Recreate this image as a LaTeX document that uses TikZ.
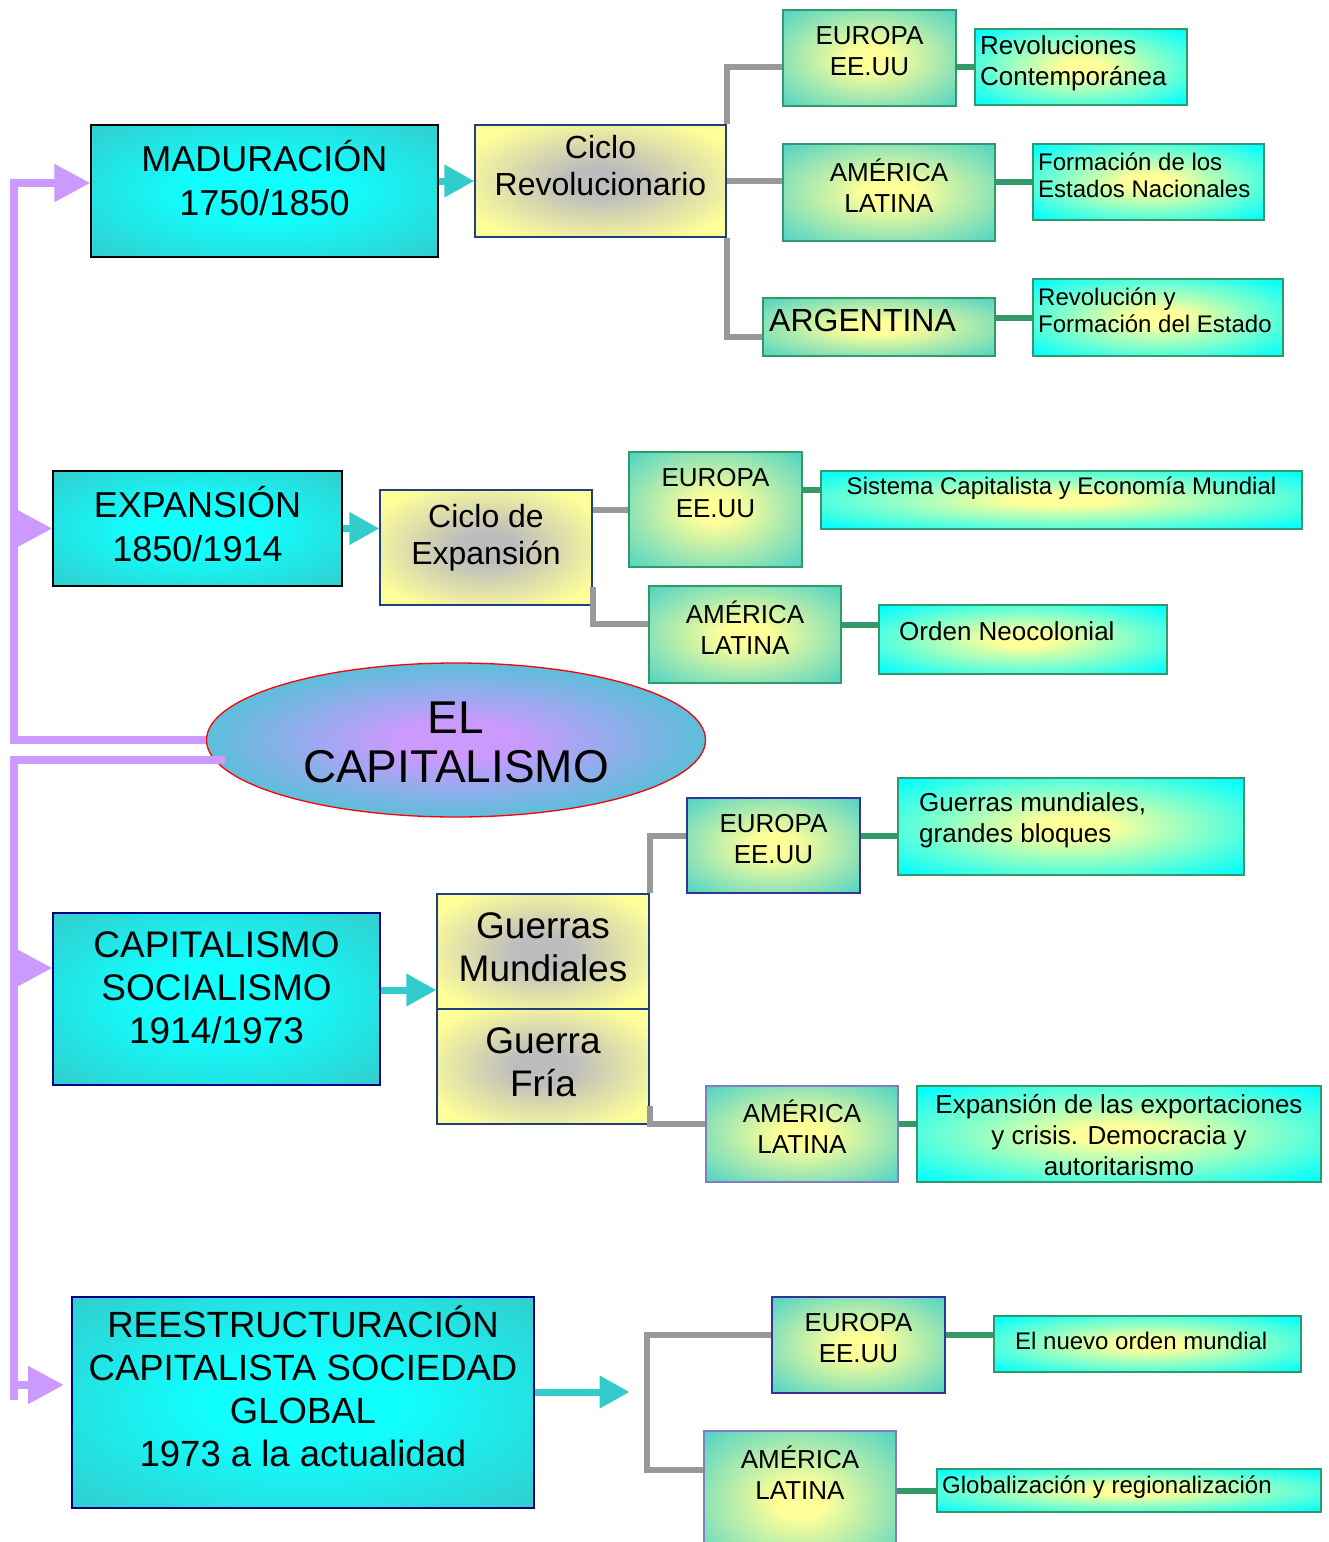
\documentclass[tikz,border=0pt]{standalone}
\usepackage{fontspec}
\setmainfont{Liberation Sans}
\usetikzlibrary{arrows.meta,shapes.geometric}
\definecolor{TealEdge}{HTML}{33CCCC}
\definecolor{BrightCyan}{HTML}{10FFFF}
\definecolor{NoteCyan}{HTML}{00FFFF}
\definecolor{PaleYellow}{HTML}{FFFF99}
\definecolor{CicloGray}{HTML}{BDBDBD}
\definecolor{Lilac}{HTML}{CC99FF}
\definecolor{LinkGray}{HTML}{999999}
\definecolor{LinkGreen}{HTML}{339966}
\definecolor{CNavy}{HTML}{000080}
\definecolor{CBlueDark}{HTML}{1F3F7F}
\definecolor{CIndigo}{HTML}{333399}
\definecolor{CSlate}{HTML}{7F7FBF}
\pgfdeclareradialshading{mainshade}{\pgfpoint{0bp}{0bp}}{color(0bp)=(BrightCyan); color(10bp)=(BrightCyan); color(36bp)=(TealEdge); color(50bp)=(TealEdge)}
\pgfdeclareradialshading{cicloshade}{\pgfpoint{0bp}{0bp}}{color(0bp)=(CicloGray); color(7bp)=(CicloGray); color(30bp)=(PaleYellow); color(50bp)=(PaleYellow)}
\pgfdeclareradialshading{regionshade}{\pgfpoint{0bp}{0bp}}{color(0bp)=(PaleYellow); color(6bp)=(PaleYellow); color(40bp)=(TealEdge); color(50bp)=(TealEdge)}
\pgfdeclareradialshading{noteshade}{\pgfpoint{0bp}{0bp}}{color(0bp)=(PaleYellow); color(5bp)=(PaleYellow); color(34bp)=(NoteCyan); color(50bp)=(NoteCyan)}
\pgfdeclareradialshading{ellshade}{\pgfpoint{0bp}{0bp}}{color(0bp)=(Lilac); color(6bp)=(Lilac); color(32bp)=(TealEdge); color(50bp)=(TealEdge)}
\tikzset{
  box/.style={inner sep=0pt, line width=1.3pt},
  era/.style={box, shading=mainshade, draw=black},
  ciclo/.style={box, shading=cicloshade, draw=CBlueDark},
  region/.style={box, shading=regionshade, draw=LinkGreen},
  note/.style={box, shading=noteshade, draw=LinkGreen},
  eratxt/.style={inner sep=0pt, align=center, font=\fontsize{36}{44}\selectfont},
  ciclotxt/.style={inner sep=0pt, align=center, font=\fontsize{32}{37}\selectfont},
  bigtxt/.style={inner sep=0pt, align=center, font=\fontsize{37}{43}\selectfont},
  regtxt/.style={inner sep=0pt, align=center, font=\fontsize{26}{31}\selectfont},
  notetxt/.style={inner sep=0pt, align=left, anchor=west, font=\fontsize{26}{31}\selectfont},
  smalltxt/.style={inner sep=0pt, align=left, anchor=west, font=\fontsize{24}{27}\selectfont},
  trunk/.style={Lilac, line width=8pt},
  trunkarrow/.style={trunk, -{Triangle[length=36pt,width=36pt]}},
  teallink/.style={TealEdge, line width=7pt, -{Triangle[length=30pt,width=31pt]}},
  graylink/.style={LinkGray, line width=6pt},
  greenlink/.style={LinkGreen, line width=6pt}
}
\begin{document}
\begin{tikzpicture}[x=1pt, y=-1pt]
  \useasboundingbox (0,0) rectangle (1329,1542);

  % Maduracion 1750/1850
  \node[era, minimum width=347, minimum height=132] (mad) at (264.5,191) {};
  \node[eratxt] (madt) at (264.5,178) {MADURACIÓN\\1750/1850};
  \node[ciclo, minimum width=251, minimum height=112] (cr) at (600.5,181) {};
  \node[ciclotxt] (crt) at (600.5,166) {Ciclo\\Revolucionario};
  \node[region, minimum width=173, minimum height=96] (eu1) at (869.5,58) {};
  \node[regtxt] (eu1t) at (869.5,51.5) {EUROPA\\EE.UU};
  \node[note, minimum width=212, minimum height=76] (n1) at (1081,67) {};
  \node[notetxt] (n1t) at (980,63.5) {Revoluciones\\Contemporánea};
  \node[region, minimum width=212, minimum height=97] (la1) at (889,192.5) {};
  \node[regtxt] (la1t) at (889,186) {AMÉRICA\\LATINA};
  \node[note, minimum width=231, minimum height=76] (n2) at (1148.5,182) {};
  \node[smalltxt] (n2t) at (1038,175.5) {Formación de los\\Estados Nacionales};
  \node[region, minimum width=232, minimum height=58] (ar) at (879,327) {};
  \node[ciclotxt, anchor=west] (art) at (769,320) {ARGENTINA};
  \node[note, minimum width=250, minimum height=77] (n3) at (1158,317.5) {};
  \node[smalltxt] (n3t) at (1038,310) {Revolución y\\Formación del Estado};

  % Expansion 1850/1914
  \node[era, minimum width=289, minimum height=115] (exp) at (197.5,528.5) {};
  \node[eratxt] (expt) at (197.5,524.5) {EXPANSIÓN\\1850/1914};
  \node[ciclo, minimum width=212, minimum height=115] (ce) at (486,547.5) {};
  \node[ciclotxt] (cet) at (486,537.5) {Ciclo de\\Expansión};
  \node[region, minimum width=173, minimum height=115] (eu2) at (715.5,509.5) {};
  \node[regtxt] (eu2t) at (715.5,493) {EUROPA\\EE.UU};
  \node[note, minimum width=481, minimum height=58] (n4) at (1061.5,500) {};
  \node[smalltxt, anchor=center] (n4t) at (1061.5,488) {Sistema Capitalista y Economía Mundial};
  \node[region, minimum width=192, minimum height=97] (la2) at (745,634.5) {};
  \node[regtxt] (la2t) at (745,627.5) {AMÉRICA\\LATINA};
  \node[note, minimum width=288, minimum height=69] (n5) at (1023,639.5) {};
  \node[notetxt] (n5t) at (899,631) {Orden Neocolonial};

  % centre
  \node[ellipse, inner sep=0pt, minimum width=499, minimum height=154, shading=ellshade, draw=red, line width=1.3pt] (ell) at (456,740) {};
  \node[inner sep=0pt, align=center, font=\fontsize{46}{49}\selectfont] (ellt) at (456,742.5) {EL\\CAPITALISMO};

  % Capitalismo / Socialismo 1914/1973
  \node[era, draw=CNavy, minimum width=327, minimum height=172] (cs) at (216.5,999) {};
  \node[bigtxt] (cst) at (216.5,988) {CAPITALISMO\\SOCIALISMO\\1914/1973};
  \node[ciclo, minimum width=212, minimum height=115] (gm) at (543,951.5) {};
  \node[bigtxt] (gmt) at (543,947.5) {Guerras\\Mundiales};
  \node[ciclo, minimum width=212, minimum height=115] (gf) at (543,1066.5) {};
  \node[bigtxt] (gft) at (543,1062) {Guerra\\Fría};
  \node[region, draw=CIndigo, minimum width=173, minimum height=95] (eu3) at (773.5,845.5) {};
  \node[regtxt] (eu3t) at (773.5,839) {EUROPA\\EE.UU};
  \node[note, minimum width=346, minimum height=97] (n6) at (1071,826.5) {};
  \node[notetxt] (n6t) at (919,820) {Guerras mundiales,\\grandes bloques};
  \node[region, draw=CSlate, minimum width=192, minimum height=96] (la3) at (802,1134) {};
  \node[regtxt] (la3t) at (802,1127) {AMÉRICA\\LATINA};
  \node[note, minimum width=404, minimum height=96] (n7) at (1119,1134) {};
  \node[regtxt] (n7t) at (1119,1135) {Expansión de las exportaciones\\y crisis. Democracia y\\autoritarismo};

  % Reestructuracion 1973 -
  \node[era, draw=CNavy, minimum width=462, minimum height=211] (rs) at (303,1402.5) {};
  \node[inner sep=0pt, align=center, font=\fontsize{36.5}{43}\selectfont] (rst) at (303,1386.5) {REESTRUCTURACIÓN\\CAPITALISTA SOCIEDAD\\GLOBAL\\1973 a la actualidad};
  \node[region, draw=CIndigo, minimum width=173, minimum height=96] (eu4) at (858.5,1345) {};
  \node[regtxt] (eu4t) at (858.5,1338) {EUROPA\\EE.UU};
  \node[note, minimum width=307, minimum height=56] (n8) at (1147.5,1344) {};
  \node[smalltxt] (n8t) at (1015,1341) {El nuevo orden mundial};
  \node[region, draw=CSlate, minimum width=192, minimum height=140] (la4) at (800,1501) {};
  \node[regtxt] (la4t) at (800,1473) {AMÉRICA\\LATINA};
  \node[note, minimum width=384, minimum height=43] (n9) at (1129,1490.5) {};
  \node[smalltxt] (n9t) at (942,1487) {Globalización y regionalización};

  % lilac trunk
  \coordinate (topturn) at (14,183);
  \coordinate (lowstart) at (225,760);
  \coordinate (lowend) at (14,1400);
  \draw[trunkarrow] (ell.west) -| (topturn) -- (mad.west |- topturn);
  \draw[trunkarrow] (topturn |- exp.west) -- (exp.west);
  \draw[trunk] (lowstart) -| (lowend);
  \draw[trunkarrow] ([yshift=31]cs.west -| lowend) -- ([yshift=31]cs.west);
  \draw[trunkarrow] ([yshift=17.5]rs.west -| lowend) -- ++(50,0);

  % teal arrows
  \draw[teallink] (cr.west -| mad.east) -- (cr.west);
  \draw[teallink] (exp.east) -- (exp.east -| ce.west);
  \draw[teallink] ([yshift=9]cs.east) -- ([yshift=9]cs.east -| gm.west);
  \draw[teallink] ([yshift=10.5]rs.east) -- ++(95,0);

  % gray branches
  \draw[graylink] (cr.north east) |- ([yshift=-9]eu1.west);
  \draw[graylink] (cr.east) -- (cr.east -| la1.west);
  \draw[graylink] (cr.south east) |- ([yshift=-10]ar.west);
  \draw[graylink] (eu2.west -| ce.east) -- (eu2.west);
  \draw[graylink] ([yshift=19]ce.south east) |- ([yshift=10.5]la2.west);
  \draw[graylink] (gm.north east) |- ([yshift=9.5]eu3.west);
  \draw[graylink] ([yshift=19]gf.south east) |- ([yshift=10]la3.west);
  \coordinate (fork) at (647,1400);
  \draw[graylink] ([yshift=10]eu4.west) -| (fork) |- ([yshift=31]la4.west);

  % green links
  \draw[greenlink] (n1.west -| eu1.east) -- (n1.west);
  \draw[greenlink] (n2.west -| la1.east) -- (n2.west);
  \draw[greenlink] (n3.west -| ar.east) -- (n3.west);
  \draw[greenlink] ([yshift=10]n4.west -| eu2.east) -- ([yshift=10]n4.west);
  \draw[greenlink] ([yshift=10]la2.east) -- ([yshift=10]la2.east -| n5.west);
  \draw[greenlink] ([yshift=9.5]eu3.east) -- ([yshift=9.5]eu3.east -| n6.west);
  \draw[greenlink] ([yshift=10]la3.east) -- ([yshift=10]la3.east -| n7.west);
  \draw[greenlink] ([yshift=10]eu4.east) -- ([yshift=10]eu4.east -| n8.west);
  \draw[greenlink] (n9.west -| la4.east) -- (n9.west);
\end{tikzpicture}
\end{document}
